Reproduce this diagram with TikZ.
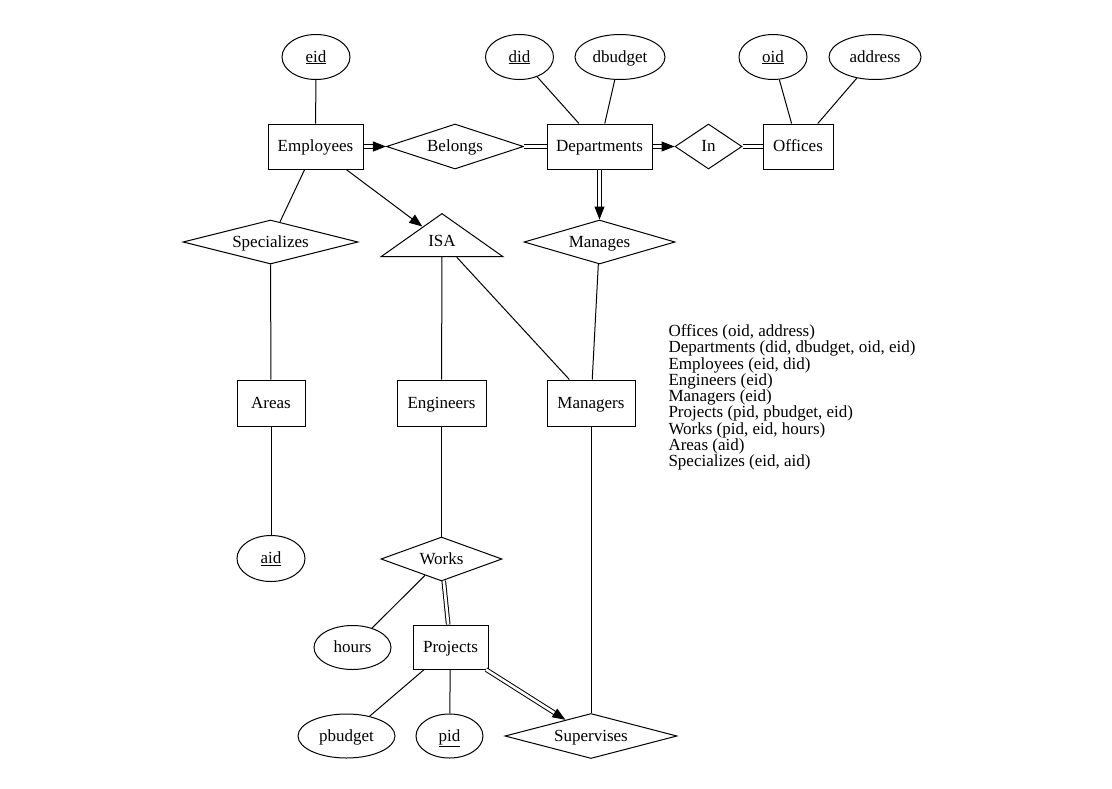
\documentclass[tikz,border=0pt]{standalone}
\usepackage{fontspec}
\setmainfont{Liberation Serif}
\usetikzlibrary{shapes.geometric,arrows.meta}
\begin{document}
\begin{tikzpicture}[x=1pt,y=-1pt,
  every node/.style={font=\fontsize{17}{20}\selectfont, inner sep=0pt, line width=1pt,
                     text height=12.5pt, text depth=2.5pt},
  ent/.style={draw, rectangle, minimum width=#1, minimum height=45pt},
  attr/.style={draw, ellipse, minimum width=#1, minimum height=45pt},
  rel/.style={draw, diamond, aspect=4, minimum width=#1, minimum height=44pt},
  conn/.style={line width=1pt},
  dbl/.style={double, double distance=2.6pt, line width=1pt},
  arr/.style={-{Triangle[length=13pt,width=10pt]}}
]
\useasboundingbox (0,0) rectangle (1112,788);

% attributes
\node[attr=68pt] (eid) at (316,57) {\underline{eid}};
\node[attr=68pt] (did) at (519.5,57) {\underline{did}};
\node[attr=90pt] (dbudget) at (620,57) {dbudget};
\node[attr=68pt] (oid) at (773,57) {\underline{oid}};
\node[attr=92pt] (address) at (875,57) {address};

% top row
\node[ent=95pt] (emp) at (315.5,146.5) {Employees};
\node[rel=137pt, minimum height=45pt] (belongs) at (455,146.5) {Belongs};
\node[ent=105pt] (dep) at (599.5,146.5) {Departments};
\node[rel=67pt, minimum height=45pt, aspect=1.5] (in) at (708.5,146.5) {In};
\node[ent=70pt] (off) at (798,146.5) {Offices};

% second row
\node[rel=175pt] (spec) at (270.5,242) {Specializes};
\node[draw, isosceles triangle, isosceles triangle stretches, shape border rotate=90,
      text height=10pt, text depth=0pt,
      minimum width=122pt, minimum height=42pt] (isa) at (442,241.2) {ISA};
\node[rel=151pt] (manages) at (599.5,242) {Manages};

% third row
\node[ent=68pt, minimum height=46pt] (areas) at (271,403) {Areas};
\node[ent=89pt, minimum height=46pt] (eng) at (441.5,403) {Engineers};
\node[ent=88pt, minimum height=46pt] (mgr) at (591,403) {Managers};

% lower part
\node[attr=68pt, minimum height=46pt] (aid) at (271,558.5) {\underline{aid}};
\node[rel=121pt] (works) at (441.5,559) {Works};
\node[attr=77pt, minimum height=44pt] (hours) at (352.5,647.5) {hours};
\node[ent=75pt, minimum height=44pt] (proj) at (450.5,647) {Projects};
\node[attr=97pt, minimum height=44pt] (pbudget) at (346.5,736) {pbudget};
\node[attr=67pt, minimum height=44pt] (pid) at (449.5,736) {\underline{pid}};
\node[rel=172pt, minimum height=45pt] (sup) at (591,736) {Supervises};

% schema text
\node[anchor=west, align=left, text height=, text depth=, font=\fontsize{17}{16.3}\selectfont] (schema) at (668,397.5) {%
Offices (oid, address)\\
Departments (did, dbudget, oid, eid)\\
Employees (eid, did)\\
Engineers (eid)\\
Managers (eid)\\
Projects (pid, pbudget, eid)\\
Works (pid, eid, hours)\\
Areas (aid)\\
Specializes (eid, aid)};

% connectors
\draw[conn] (eid) -- (emp);
\draw[conn] (did) -- (dep);
\draw[conn] (dbudget) -- (dep);
\draw[conn] (oid) -- (off);
\draw[conn] (address) -- (off);
\draw[dbl,arr] (emp) -- (belongs);
\draw[dbl] (belongs) -- (dep);
\draw[dbl,arr] (dep) -- (in);
\draw[dbl] (in) -- (off);
\draw[dbl,arr] (dep) -- (manages);
\draw[conn,arr] (emp) -- (isa);
\draw[conn] (emp) -- (spec);
\draw[conn] (spec) -- (areas);
\draw[conn] (areas) -- (aid);
\draw[conn] (isa) -- (eng);
\draw[conn] (isa) -- (mgr);
\draw[conn] (manages) -- (mgr);
\draw[conn] (eng) -- (works);
\draw[conn] (mgr) -- (sup);
\draw[conn] (works) -- (hours);
\draw[dbl] (works) -- (proj);
\draw[conn] (proj) -- (pbudget);
\draw[conn] (proj) -- (pid);
\draw[dbl,arr] (proj) -- (sup);
\end{tikzpicture}
\end{document}
